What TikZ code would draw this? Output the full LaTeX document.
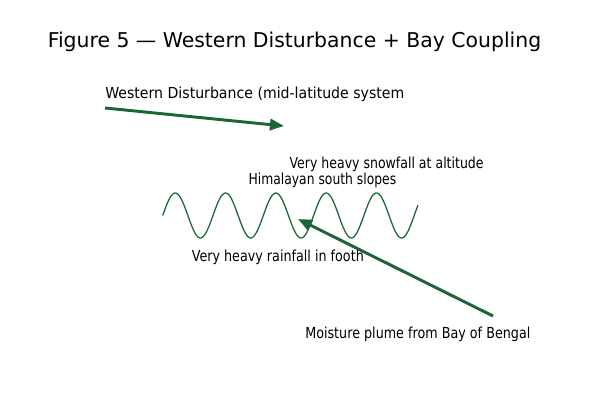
\documentclass[tikz,border=0pt]{standalone}
\usepackage{fontspec}
\setmainfont{DejaVu Sans}
\usetikzlibrary{arrows.meta}
\definecolor{wdgreen}{RGB}{26,102,52}
\newcommand{\fitlabel}[2]{\resizebox{#1}{\height}{#2}}
\tikzset{
    flow/.style={wdgreen, line width=2.1pt, -{Triangle[length=10pt, width=8pt]}},
    label/.style={anchor=base west, inner sep=0pt, font=\fontsize{10.8}{13}\selectfont},
    wave/.style={wdgreen, line width=0.9pt}
}
\begin{document}
\begin{tikzpicture}[x=0.025cm, y=-0.025cm]
            \useasboundingbox (0,0) rectangle (600,400);
            \coordinate (wdstart) at (105,108);
            \coordinate (wdend) at (284,126);
            \coordinate (bobstart) at (493,316);
            \coordinate (bobend) at (298,219);
            
            \node[inner sep=0pt, font=\fontsize{14.5}{17}\selectfont] (title) at (294.5,42) {Figure 5 — Western Disturbance + Bay Coupling};
            \node[label] (wdlabel) at (105,98.5) {\fitlabel{7.475cm}{Western Disturbance (mid-latitude system}};
            \node[label] (snow) at (289.3,169) {\fitlabel{4.85cm}{Very heavy snowfall at altitude}};
            \node[label] (slopes) at (248.3,184.5) {\fitlabel{3.69cm}{Himalayan south slopes}};
            \node[label] (rain) at (191.5,262) {\fitlabel{4.3cm}{Very heavy rainfall in footh}};
            \node[label] (bob) at (305,338.5) {\fitlabel{5.625cm}{Moisture plume from Bay of Bengal}};
            
            \draw[wave] plot[domain=162.7:418, samples=200] (\x, {215.5 - 22.5*sin(7.157*(\x-162.7))});
            \draw[flow] (wdstart) -- (wdend);
            \draw[flow] (bobstart) -- (bobend);
    \end{tikzpicture}
\end{document}
